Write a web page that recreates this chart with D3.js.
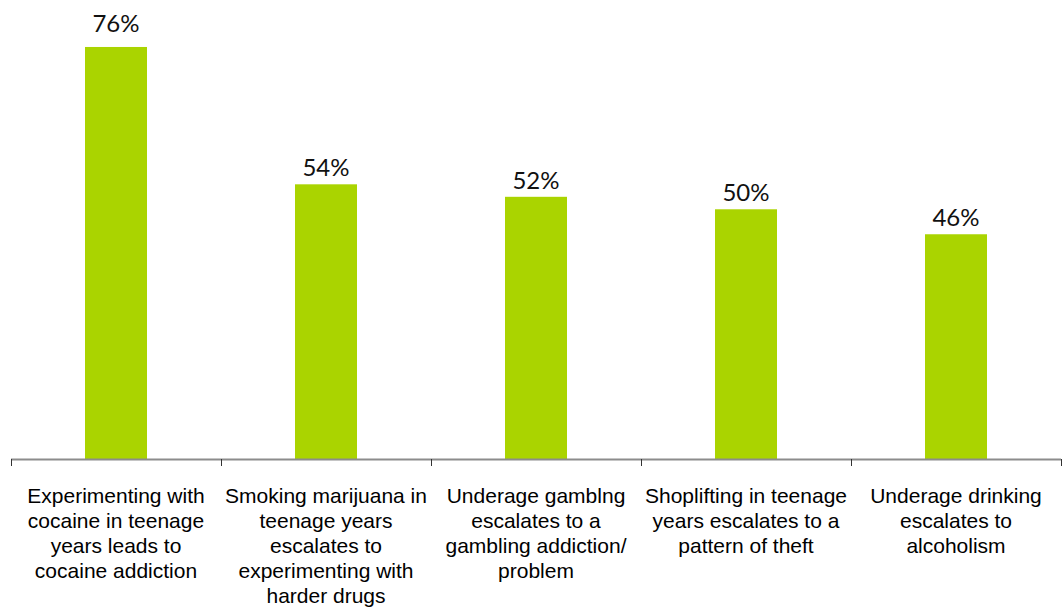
<!DOCTYPE html>
<html><head><meta charset="utf-8">
<script src="https://cdn.jsdelivr.net/npm/d3@7"></script>
<style>body{margin:0;background:#fff}svg{display:block}</style>
</head><body>
<svg id="c" width="1064" height="607"></svg>
<script>
const categories = [
  ["Experimenting with","cocaine in teenage","years leads to","cocaine addiction"],
  ["Smoking marijuana in","teenage years","escalates to","experimenting with","harder drugs"],
  ["Underage gamblng","escalates to a","gambling addiction/","problem"],
  ["Shoplifting in teenage","years escalates to a","pattern of theft"],
  ["Underage drinking","escalates to","alcoholism"]
];
const values = [76, 54, 52, 50, 46];
const valueLabels = ["76%","54%","52%","50%","46%"];

const svg = d3.select("#c");
const ids = d3.range(values.length);
const x = d3.scaleBand().domain(ids).range([11, 1061]).paddingInner(0).paddingOuter(0);
const y = d3.scaleLinear().domain([10, 80]).range([459, 22]);
const barW = 62;

svg.selectAll("rect.bar").data(ids).join("rect")
  .attr("class","bar")
  .attr("x", i => x(i) + x.bandwidth()/2 - barW/2)
  .attr("width", barW)
  .attr("y", i => y(values[i]))
  .attr("height", i => y(10) - y(values[i]))
  .attr("fill", "#aad400");

svg.selectAll("text.val").data(ids).join("text")
  .attr("class","val")
  .attr("x", i => x(i) + x.bandwidth()/2)
  .attr("y", i => y(values[i]) - (i === 0 ? 15 : 8))
  .attr("text-anchor","middle")
  .attr("font-family","Lato, 'Open Sans', sans-serif")
  .attr("font-size", 24)
  .attr("fill","#111")
  .text(i => valueLabels[i]);

// axis
const ax = svg.append("g");
ax.append("line").attr("x1", 11).attr("x2", 1061).attr("y1", 459.5).attr("y2", 459.5)
  .attr("stroke","#8c8c8c").attr("stroke-width",2);
const tickPos = ids.map(i => x(i)).concat([x(ids.length-1) + x.bandwidth()]);
ax.selectAll("line.tk").data(tickPos).join("line")
  .attr("class","tk")
  .attr("x1", d => Math.round(d)+0.5).attr("x2", d => Math.round(d)+0.5)
  .attr("y1", 459).attr("y2", 466)
  .attr("stroke","#333").attr("stroke-width",1);

const lab = svg.selectAll("text.cat").data(ids).join("text")
  .attr("class","cat")
  .attr("text-anchor","middle")
  .attr("font-family","'Liberation Sans', Arial, sans-serif")
  .attr("font-size", 21)
  .attr("fill","#000");
lab.each(function(i){
  const t = d3.select(this);
  categories[i].forEach((line, k) => {
    t.append("tspan").attr("x", x(i) + x.bandwidth()/2).attr("y", 503 + k*25).text(line);
  });
});
</script>
</body></html>
